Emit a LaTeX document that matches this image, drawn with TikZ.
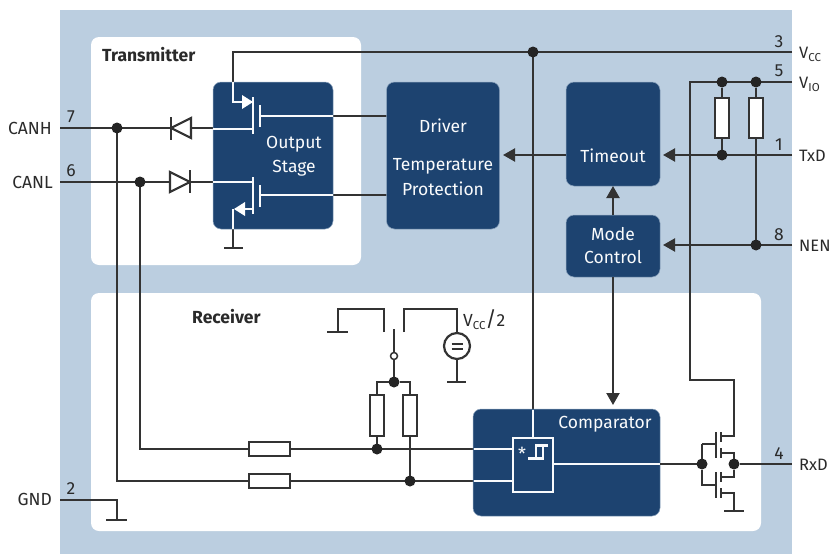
\documentclass[tikz,border=0pt]{standalone}
\usepackage{fontspec}
\setmainfont{Fira Sans}
\usetikzlibrary{arrows.meta,calc}
\definecolor{bgblue}{HTML}{BBCEE0}
\definecolor{blockblue}{HTML}{1D4370}
\definecolor{wire}{HTML}{333333}
\definecolor{txt}{HTML}{2A2A2A}
\newcommand{\lowtxt}[1]{\raisebox{-3.5pt}{\fontsize{11.5pt}{11.5pt}\selectfont #1}}
\tikzset{
  panel/.style={fill=white,rounded corners=8pt,inner sep=0pt,outer sep=0pt},
  block/.style={fill=blockblue,draw=bgblue!70!blockblue,line width=0.5pt,rounded corners=8pt,inner sep=0pt,outer sep=0pt},
  ln/.style={draw=wire,line width=2.2pt},
  thinln/.style={draw=wire,line width=1.7pt},
  wl/.style={draw=white!90!bgblue,line width=2pt},
  res/.style={draw=wire,fill=white,line width=2pt,inner sep=0pt,outer sep=0pt},
  dot/.style={circle,fill=wire!70!black,inner sep=0pt,outer sep=0pt,minimum size=11pt},
  arr/.style={-{Triangle[length=12pt,width=13pt]}},
  lab/.style={text=txt,font=\fontsize{17.5}{20}\selectfont,inner sep=0pt},
  pin/.style={text=txt,font=\fontsize{17.5}{20}\selectfont,inner sep=0pt,anchor=base},
  pinlab/.style={text=txt,font=\fontsize{16.5}{20}\selectfont,inner sep=0pt,anchor=base west},
  intxt/.style={text=white!92!bgblue,font=\fontsize{17.5}{20}\selectfont,inner sep=0pt},
  bold/.style={text=txt,font=\fontsize{17.5}{20}\selectfont\bfseries,inner sep=0pt},
}
\begin{document}
\begin{tikzpicture}[x=1pt,y=-1pt]
\useasboundingbox (0,0) rectangle (830,554);
\fill[bgblue] (60,10) rectangle (792,554);
\node[panel,minimum width=270pt,minimum height=228pt] (tx) at (226,151) {};
\node[panel,minimum width=670pt,minimum height=238pt] (rx) at (426,412) {};

% named points
\coordinate (canh) at (60,128);
\coordinate (canl) at (60,182);
\coordinate (gnd) at (60,500);
\coordinate (vcc) at (792,52);
\coordinate (vio) at (792,82);
\coordinate (txd) at (792,155);
\coordinate (nen) at (792,245);
\coordinate (rxd) at (792,464);
\coordinate (vcctop) at (233,52);

% dark wires under blocks
\draw[ln] (canh) -- (213,128);
\draw[ln] (canl) -- (213,182);
\draw[ln] (vcc) -- (vcctop) -- (233,90);
\draw[ln] (233,225) -- (233,248);
\draw[ln] (224,248) -- (243,248);
\draw[ln] (333,116) -- (387,116);
\draw[ln] (333,195) -- (387,195);
\draw[ln] (533,52) -- (533,412);
\draw[ln] (117,128) -- (117,481) -- (473,481);
\draw[ln] (140,182) -- (140,449) -- (473,449);
\draw[ln] (gnd) -- (117,500) -- (117,520);
\draw[ln] (106,520) -- (127,520);

% diodes
\draw[ln,fill=white,line join=miter] (191,118) -- (171,128) -- (191,138) -- cycle;
\draw[ln] (171,117) -- (171,140);
\draw[ln,fill=white,line join=miter] (170,172) -- (190,182) -- (170,192) -- cycle;
\draw[ln] (190,170) -- (190,193);

% blocks
\node[block,minimum width=120pt,minimum height=147pt] (outstage) at (273,155.5) {};
\node[block,minimum width=113pt,minimum height=147pt] (driver) at (443,155.5) {};
\node[block,minimum width=94pt,minimum height=104pt] (timeout) at (613,134) {};
\node[block,minimum width=94pt,minimum height=62pt] (mode) at (613,246) {};
\node[block,minimum width=187pt,minimum height=107pt] (comp) at (566.5,462.5) {};

% block to block arrows
\coordinate (drvtip) at (503,155);
\coordinate (txdtip) at (663,155);
\coordinate (nentip) at (663,245);
\draw[ln,arr] (timeout.west |- drvtip) -- (drvtip);
\draw[ln,arr] (mode.north) -- (timeout.south);
\draw[ln,arr] (mode.south) -- (613,405);
\draw[ln,arr] (txd) -- (txdtip);
\draw[ln,arr] (nen) -- (nentip);

% VIO network
\draw[ln] (vio) -- (690,82) -- (690,380) -- (734,380) -- (734,436) -- (721,436);
\node[dot] (v1) at (722,82) {};
\node[dot] (v2) at (756,82) {};
\node[dot] (t1) at (722,155) {};
\node[dot] (n1) at (756,245) {};
\node[res,minimum width=14pt,minimum height=40pt] (r1) at (722,118) {};
\node[res,minimum width=14pt,minimum height=40pt] (r2) at (756,118) {};
\draw[ln] (v1) -- (r1.north);
\draw[ln] (v2) -- (r2.north);
\draw[ln] (r1.south) -- (t1);
\draw[ln] (r2.south) -- (n1);

% output stage transistors (white)
\draw[wl] (213,129) -- (253,129);
\draw[wl] (253,97) -- (253,134);
\draw[wl] (260,105) -- (260,127);
\draw[wl] (260,116) -- (333,116);
\draw[wl] (233,82) -- (233,102) -- (243,102);
\fill[white] (253,102) -- (242,95) -- (242,109) -- cycle;
\draw[wl] (213,182) -- (253,182);
\draw[wl] (253,177) -- (253,214);
\draw[wl] (260,185) -- (260,207);
\draw[wl] (260,195) -- (333,195);
\draw[wl] (253,209) -- (244,209);
\draw[wl] (233,209) -- (233,229);
\fill[white] (234,209) -- (245,202) -- (245,216) -- cycle;

% comparator white wiring
\draw[wl] (533,410) -- (533,438);
\node[draw=white!90!bgblue,line width=2pt,minimum width=40pt,minimum height=54pt,inner sep=0pt,outer sep=0pt] (sym) at (533,465) {};
\draw[wl] (474,449) -- (sym.west |- 0,449);
\draw[wl] (474,481) -- (sym.west |- 0,481);
\draw[wl] (sym.east |- 0,464) -- (660,464);
\draw[draw=white!90!bgblue,line width=2.2pt] (528,458.5) -- (543,458.5) -- (543,445.5) -- (536,445.5) -- (536,458.5);
\draw[draw=white!90!bgblue,line width=2.2pt] (543,445.5) -- (548,445.5);
\node[intxt,font=\fontsize{18}{18}\selectfont] (star) at (522,454) {*};

% receiver inputs
\node[res,minimum width=41pt,minimum height=14pt] (rh1) at (269.5,449) {};
\node[res,minimum width=41pt,minimum height=14pt] (rh2) at (269.5,481) {};
\node[dot] (d1) at (377,449) {};
\node[dot] (d2) at (410,481) {};
\node[dot] (d3) at (394,382) {};
\node[res,minimum width=14pt,minimum height=41pt] (rv1) at (377,415.5) {};
\node[res,minimum width=14pt,minimum height=41pt] (rv2) at (410,415.5) {};
\draw[thinln] (d3) -| (rv1.north);
\draw[thinln] (d3) -| (rv2.north);
\draw[thinln] (rv1.south) -- (d1);
\draw[thinln] (rv2.south) -- (d2);
\node[circle,draw=wire,fill=white,line width=1.5pt,minimum size=7pt,inner sep=0pt,outer sep=0pt] (sw) at (394,356) {};
\draw[ln] (sw) -- (d3);
\draw[ln] (394,329) -- (sw);
\draw[thinln] (384,332) -- (384,309) -- (338,309) -- (338,332);
\draw[ln] (327,332) -- (348,332);
\draw[thinln] (404,332) -- (404,309) -- (457,309) -- (457,333);
\node[circle,draw=wire,fill=white,line width=2.2pt,minimum size=26pt,inner sep=0pt,outer sep=0pt] (src) at (457,346) {};
\draw[wire,line width=1.5pt] (451.5,344) -- (462.5,344) (451.5,349) -- (462.5,349);
\draw[ln] (src.south) -- (457,382);
\draw[ln] (447,382) -- (466,382);

% RxD output stage
\draw[ln] (660,464) -- (702,464);
\node[dot] (g) at (702,464) {};
\node[dot] (o) at (734,464) {};
\draw[ln] (o) -- (rxd);
\draw[ln] (702,444) -- (716,444);
\draw[ln] (702,444) -- (g);
\draw[ln] (g) -- (702,485) -- (716,485);
\draw[ln] (716,432) -- (716,458);
\draw[ln] (721,432) -- (721,442);
\draw[ln] (721,448) -- (721,458);
\draw[ln] (721,453) -- (734,453) -- (o);
\draw[ln] (716,472) -- (716,498);
\draw[ln] (721,472) -- (721,482);
\draw[ln] (721,488) -- (721,498);
\draw[ln] (o) -- (734,477) -- (721,477);
\draw[ln] (721,493) -- (734,493) -- (734,511);
\draw[ln] (724,511) -- (744,511);

% junction dots
\node[dot] (j1) at (117,128) {};
\node[dot] (j2) at (140,182) {};
\node[dot] (j3) at (533,52) {};

% text
\node[bold,anchor=west] (ttx) at (102,54.5) {Transmitter};
\node[bold,anchor=west] (trx) at (192,317) {Receiver};
\node[intxt] (t1a) at (294,144) {Output};
\node[intxt] (t1b) at (294,168) {Stage};
\node[intxt] (t2a) at (443,126) {Driver};
\node[intxt] (t2b) at (443,166) {Temperature};
\node[intxt] (t2c) at (443,189) {Protection};
\node[intxt] (t3) at (613,156) {Timeout};
\node[intxt] (t4a) at (613,234) {Mode};
\node[intxt] (t4b) at (613,257) {Control};
\node[intxt] (t5) at (605,424) {Comparator};

\node[lab,anchor=east] (lcanh) at (52,128) {CANH};
\node[lab,anchor=east] (lcanl) at (53,182) {CANL};
\node[lab,anchor=east] (lgnd) at (52,499) {GND};
\node[pin] (p7) at (71,122) {7};
\node[pin] (p6) at (71,176) {6};
\node[pin] (p2) at (71,494) {2};
\node[pin] (p3) at (779,47) {3};
\node[pin] (p5) at (779,76) {5};
\node[pin] (p1) at (779,150) {1};
\node[pin] (p8) at (779,240) {8};
\node[pin] (p4) at (779,459) {4};
\node[pinlab] (lvcc) at (799,58) {V\lowtxt{CC}};
\node[pinlab] (lvio) at (799,88) {V\lowtxt{IO}};
\node[pinlab] (ltxd) at (799,161) {TxD};
\node[pinlab] (lnen) at (799,251) {NEN};
\node[pinlab] (lrxd) at (799,470) {RxD};
\node[pinlab,font=\fontsize{17.5}{20}\selectfont] (lhalf) at (463,326) {V\lowtxt{CC}{\fontsize{21}{21}\selectfont/}2};
\end{tikzpicture}
\end{document}
